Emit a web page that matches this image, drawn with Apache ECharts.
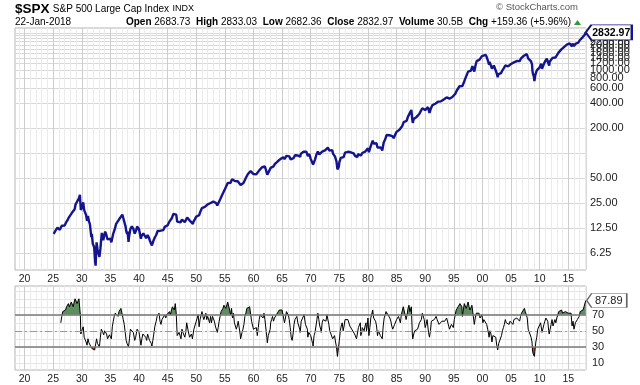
<!DOCTYPE html>
<html><head><meta charset="utf-8">
<script src="https://cdn.jsdelivr.net/npm/echarts@6/dist/echarts.min.js"></script>
<style>html,body{margin:0;padding:0;background:#fff}#c{width:640px;height:385px}</style>
</head><body><div id="c"></div>
<script>
// ---------- DATA ----------
const spx1920s = [["1925-02",10.6],["1925-04",10.9],["1925-07",11.9],["1925-10",12.6],
 ["1926-01",13.1],["1926-03",11.9],["1926-04",12.1],["1926-07",13.3],["1926-10",13.3],
 ["1927-01",13.4],["1927-04",14.6],["1927-07",15.5],["1927-10",16.8],
 ["1928-01",17.5],["1928-04",18.9],["1928-06",18.6],["1928-07",19.2],["1928-10",21.0],["1928-12",24.1],
 ["1929-01",24.9],["1929-04",24.6],["1929-07",28.5],["1929-09",31.3],["1929-11",20.6],["1929-12",21.4]];
const spx1930s = [["1930-02",22.5],["1930-04",25.5],["1930-06",20.5],["1930-07",21.0],["1930-10",17.9],["1930-12",15.3],
 ["1931-02",17.4],["1931-04",15.0],["1931-06",13.9],["1931-07",13.5],["1931-09",9.7],["1931-10",10.6],["1931-12",8.1],
 ["1932-01",8.3],["1932-03",7.3],["1932-05",4.9],["1932-06",4.4],["1932-08",8.4],["1932-09",8.3],["1932-10",6.9],["1932-12",6.9],
 ["1933-02",5.6],["1933-04",7.0],["1933-07",10.9],["1933-10",8.9],["1933-12",10.1],
 ["1934-02",11.3],["1934-04",10.6],["1934-07",9.1],["1934-10",8.9],
 ["1935-01",9.3],["1935-03",8.4],["1935-07",10.7],["1935-10",12.0],
 ["1936-01",14.0],["1936-04",14.7],["1936-07",15.8],["1936-10",16.3],
 ["1937-02",18.1],["1937-04",16.5],["1937-07",16.1],["1937-09",12.9],["1937-10",11.6],["1937-12",10.6],
 ["1938-01",11.3],["1938-03",8.5],["1938-04",9.7],["1938-07",12.2],["1938-10",13.1],
 ["1939-01",12.3],["1939-04",10.7],["1939-07",11.7],["1939-09",13.0],["1939-10",12.9]];
const spx1940s = [["1940-01",12.1],["1940-04",12.3],["1940-05",9.3],["1940-06",9.9],["1940-10",10.8],
 ["1941-01",10.3],["1941-04",9.4],["1941-07",10.3],["1941-10",9.5],["1941-12",8.7],
 ["1942-01",8.9],["1942-04",7.7],["1942-07",8.7],["1942-10",9.6],
 ["1943-01",10.3],["1943-04",11.5],["1943-07",11.8],["1943-10",11.6],
 ["1944-01",11.8],["1944-04",11.8],["1944-07",12.9],["1944-10",12.9],
 ["1945-01",13.5],["1945-04",14.7],["1945-07",14.8],["1945-10",16.5],["1945-12",17.4],
 ["1946-01",18.5],["1946-05",19.3],["1946-07",18.1],["1946-09",14.9],["1946-10",14.7],
 ["1947-01",15.5],["1947-04",14.6],["1947-07",15.8],["1947-10",15.3],
 ["1948-01",14.7],["1948-04",15.5],["1948-06",16.7],["1948-10",16.2],["1948-12",15.2],
 ["1949-01",15.4],["1949-04",14.7],["1949-06",14.0],["1949-07",14.8],["1949-10",15.9]];
const spx1950s = [["1950-01",17.1],["1950-04",18.0],["1950-07",17.8],["1950-10",19.9],
 ["1951-01",21.7],["1951-04",22.4],["1951-07",22.4],["1951-10",23.0],
 ["1952-01",24.1],["1952-04",23.3],["1952-07",25.0],["1952-10",24.5],
 ["1953-01",26.0],["1953-04",24.6],["1953-07",24.8],["1953-09",23.3],["1953-10",24.5],
 ["1954-01",26.1],["1954-04",28.3],["1954-07",30.9],["1954-10",31.7],
 ["1955-01",36.6],["1955-04",37.9],["1955-07",43.5],["1955-10",42.3],
 ["1956-01",43.8],["1956-04",48.4],["1956-07",49.4],["1956-10",46.0],
 ["1957-01",44.7],["1957-04",45.7],["1957-07",47.4],["1957-10",41.1],["1957-12",39.9],
 ["1958-01",41.7],["1958-04",43.4],["1958-07",47.2],["1958-10",51.3],
 ["1959-01",55.4],["1959-04",57.6],["1959-07",60.5],["1959-10",57.5]];
const spx1960s = [["1960-01",55.6],["1960-04",54.4],["1960-07",55.5],["1960-10",53.4],
 ["1961-01",61.8],["1961-04",65.3],["1961-07",67.4],["1961-10",68.6],
 ["1962-01",68.8],["1962-04",65.2],["1962-06",54.8],["1962-10",56.5],
 ["1963-01",66.2],["1963-04",69.8],["1963-07",69.1],["1963-10",74.0],
 ["1964-01",77.0],["1964-04",79.5],["1964-07",83.2],["1964-10",84.9],
 ["1965-01",87.6],["1965-04",89.1],["1965-06",84.1],["1965-07",85.0],["1965-10",92.4],
 ["1966-01",92.9],["1966-04",91.1],["1966-07",83.6],["1966-10",80.2],
 ["1967-01",86.6],["1967-04",94.0],["1967-07",94.7],["1967-10",93.3],
 ["1968-01",92.2],["1968-03",90.2],["1968-04",97.5],["1968-07",97.7],["1968-10",103.4],
 ["1969-01",103.0],["1969-04",103.5],["1969-07",91.8],["1969-10",97.2]];
const spx1970s = [["1970-01",85.0],["1970-04",81.5],["1970-06",72.7],["1970-10",83.3],
 ["1971-01",95.9],["1971-04",103.9],["1971-07",96.0],["1971-10",94.2],
 ["1972-01",103.9],["1972-04",107.7],["1972-07",107.4],["1972-10",111.6],
 ["1973-01",116.0],["1973-04",106.9],["1973-07",108.2],["1973-10",108.3],["1973-12",97.6],
 ["1974-01",96.6],["1974-04",90.3],["1974-07",79.3],["1974-09",63.5],["1974-12",68.6],
 ["1975-01",76.9],["1975-04",87.3],["1975-07",88.8],["1975-10",89.0],
 ["1976-01",100.9],["1976-04",101.6],["1976-07",103.4],["1976-10",102.1],
 ["1977-01",102.0],["1977-04",98.4],["1977-07",98.9],["1977-10",92.3],
 ["1978-01",89.3],["1978-03",89.2],["1978-04",96.8],["1978-07",100.7],["1978-10",93.2],
 ["1979-01",99.9],["1979-04",101.8],["1979-07",103.8],["1979-10",101.8]];
const spx1980s = [["1980-01",114.2],["1980-03",102.1],["1980-07",121.7],["1980-11",140.5],
 ["1981-01",129.6],["1981-04",132.8],["1981-07",130.9],["1981-09",116.2],["1981-10",121.9],
 ["1982-01",120.4],["1982-04",116.4],["1982-07",107.1],["1982-10",134.0],
 ["1983-01",145.3],["1983-04",164.4],["1983-07",162.6],["1983-10",163.6],
 ["1984-01",163.4],["1984-04",160.0],["1984-07",150.7],["1984-10",166.1],
 ["1985-01",179.6],["1985-04",179.8],["1985-07",190.9],["1985-10",189.8],
 ["1986-01",211.8],["1986-04",235.5],["1986-07",236.1],["1986-10",243.0],
 ["1987-01",274.1],["1987-04",288.4],["1987-08",329.8],["1987-10",251.8],["1987-11",230.3],
 ["1988-01",257.1],["1988-04",261.3],["1988-07",272.0],["1988-10",278.9],
 ["1989-01",297.5],["1989-04",309.6],["1989-07",346.1],["1989-10",340.4]];
const spx1990s = [["1990-01",329.1],["1990-04",330.8],["1990-07",356.2],["1990-10",304.0],
 ["1991-01",343.9],["1991-04",375.3],["1991-07",387.8],["1991-10",392.5],
 ["1992-01",408.8],["1992-04",414.9],["1992-07",424.2],["1992-10",418.7],
 ["1993-01",438.8],["1993-04",440.2],["1993-07",448.1],["1993-10",467.8],
 ["1994-01",481.6],["1994-04",450.9],["1994-07",458.3],["1994-10",472.4],
 ["1995-01",470.4],["1995-04",514.7],["1995-07",562.1],["1995-10",581.5],
 ["1996-01",636.0],["1996-04",654.2],["1996-07",639.9],["1996-10",705.3],
 ["1997-01",786.2],["1997-04",801.3],["1997-07",954.3],["1997-10",914.6],
 ["1998-01",980.3],["1998-04",1111.8],["1998-07",1120.7],["1998-08",957.3],["1998-10",1098.7],
 ["1999-01",1279.6],["1999-04",1335.2],["1999-07",1328.7],["1999-10",1362.9],["1999-12",1469.3]];
const spx2000s = [["2000-01",1394.5],["2000-04",1452.4],["2000-08",1517.7],["2000-10",1429.4],["2000-12",1320.3],
 ["2001-01",1366.0],["2001-03",1160.3],["2001-04",1249.5],["2001-07",1211.2],["2001-09",1040.9],["2001-10",1059.8],
 ["2002-01",1130.2],["2002-04",1076.9],["2002-07",911.6],["2002-09",815.3],["2002-10",885.8],
 ["2003-01",855.7],["2003-02",841.2],["2003-04",916.9],["2003-07",990.3],["2003-10",1050.7],
 ["2004-01",1131.1],["2004-04",1107.3],["2004-07",1101.7],["2004-10",1130.2],
 ["2005-01",1181.3],["2005-04",1156.9],["2005-07",1234.2],["2005-10",1207.0],
 ["2006-01",1280.1],["2006-04",1310.6],["2006-07",1276.7],["2006-10",1377.9],
 ["2007-01",1438.2],["2007-04",1482.4],["2007-07",1455.3],["2007-10",1549.4],
 ["2008-01",1378.6],["2008-04",1385.6],["2008-07",1267.4],["2008-09",1166.4],["2008-10",968.8],["2008-11",896.2],
 ["2009-01",825.9],["2009-02",735.1],["2009-04",872.8],["2009-07",987.5],["2009-10",1036.2]];
const spx2010s = [["2010-01",1073.9],["2010-04",1186.7],["2010-06",1030.7],["2010-10",1183.3],
 ["2011-01",1286.1],["2011-04",1363.6],["2011-07",1292.3],["2011-09",1131.4],["2011-10",1253.3],
 ["2012-01",1312.4],["2012-04",1397.9],["2012-07",1379.3],["2012-10",1412.2],
 ["2013-01",1498.1],["2013-04",1597.6],["2013-07",1685.7],["2013-10",1756.5],
 ["2014-01",1782.6],["2014-04",1883.9],["2014-07",1930.7],["2014-10",2018.1],
 ["2015-01",1995.0],["2015-04",2085.5],["2015-07",2103.8],["2015-09",1920.0],["2015-10",2079.4],
 ["2016-01",1940.2],["2016-04",2065.3],["2016-07",2173.6],["2016-10",2126.2],
 ["2017-01",2278.9],["2017-04",2384.2],["2017-07",2470.3],["2017-10",2575.3],["2017-12",2673.6],
 ["2018-01-22",2832.97]];

const rsi1920s = [["1926-05",60],["1926-07",68],["1926-09",74],["1926-11",72],
 ["1927-01",74],["1927-03",76],["1927-05",80],["1927-07",78],["1927-09",84],["1927-11",80],
 ["1928-01",82],["1928-03",86],["1928-05",88],["1928-07",80],["1928-09",86],["1928-11",90],
 ["1929-01",89],["1929-03",84],["1929-05",84],["1929-07",90],["1929-09",92],["1929-10",70],["1929-11",46],["1929-12",48]];
const rsi1930s = [["1930-02",52],["1930-04",55],["1930-06",42],["1930-08",44],["1930-10",36],["1930-12",32],
 ["1931-02",40],["1931-04",35],["1931-06",33],["1931-08",34],["1931-10",28],["1931-12",27],
 ["1932-02",29],["1932-04",26],["1932-06",24],["1932-08",40],["1932-10",34],["1932-12",34],
 ["1933-02",30],["1933-04",42],["1933-06",52],["1933-07",54],["1933-09",48],["1933-11",45],
 ["1934-01",50],["1934-03",52],["1934-05",46],["1934-07",40],["1934-09",42],["1934-11",45],
 ["1935-01",44],["1935-03",40],["1935-05",55],["1935-07",62],["1935-09",68],["1935-11",72],
 ["1936-01",72],["1936-03",74],["1936-05",68],["1936-07",74],["1936-09",76],["1936-11",78],
 ["1937-02",78],["1937-04",64],["1937-06",58],["1937-08",60],["1937-10",38],["1937-12",34],
 ["1938-02",36],["1938-03",30],["1938-05",40],["1938-07",52],["1938-09",50],["1938-11",54],
 ["1939-01",48],["1939-03",46],["1939-04",38],["1939-06",42],["1939-09",52],["1939-11",50]];
const rsi1940s = [["1940-01",48],["1940-03",50],["1940-05",32],["1940-07",40],["1940-09",46],["1940-11",46],
 ["1941-01",44],["1941-03",42],["1941-05",38],["1941-07",46],["1941-09",42],["1941-11",38],
 ["1942-01",38],["1942-03",34],["1942-04",31],["1942-06",38],["1942-08",46],["1942-10",55],
 ["1943-01",62],["1943-03",68],["1943-05",70],["1943-07",72],["1943-09",62],["1943-11",58],
 ["1944-01",64],["1944-03",62],["1944-05",66],["1944-07",70],["1944-09",66],["1944-11",70],
 ["1945-01",72],["1945-03",68],["1945-05",74],["1945-07",70],["1945-09",76],["1945-11",80],
 ["1946-01",80],["1946-03",76],["1946-05",84],["1946-07",72],["1946-09",44],["1946-11",44],
 ["1947-01",48],["1947-03",46],["1947-05",40],["1947-07",52],["1947-09",48],["1947-11",46],
 ["1948-01",42],["1948-03",48],["1948-05",60],["1948-06",62],["1948-08",50],["1948-10",52],["1948-11",42],
 ["1949-01",44],["1949-03",46],["1949-05",40],["1949-06",38],["1949-08",52],["1949-10",56]];
const rsi1950s = [["1950-01",62],["1950-03",64],["1950-05",70],["1950-07",55],["1950-09",64],["1950-11",66],
 ["1951-01",74],["1951-03",68],["1951-05",64],["1951-07",66],["1951-09",72],["1951-11",64],
 ["1952-01",68],["1952-03",66],["1952-05",60],["1952-07",68],["1952-09",60],["1952-11",68],
 ["1953-01",68],["1953-03",62],["1953-05",56],["1953-07",56],["1953-09",48],["1953-11",54],
 ["1954-01",62],["1954-03",68],["1954-05",74],["1954-07",76],["1954-09",78],["1954-11",82],
 ["1955-01",80],["1955-03",78],["1955-05",80],["1955-07",86],["1955-09",84],["1955-11",76],
 ["1956-01",70],["1956-03",78],["1956-05",66],["1956-07",72],["1956-09",60],["1956-11",58],
 ["1957-01",52],["1957-03",56],["1957-05",62],["1957-07",64],["1957-09",46],["1957-10",40],["1957-12",42],
 ["1958-01",48],["1958-03",52],["1958-05",58],["1958-07",68],["1958-09",72],["1958-11",78],
 ["1959-01",78],["1959-03",76],["1959-05",80],["1959-07",78],["1959-09",62],["1959-11",62]];
const rsi1960s = [["1960-01",52],["1960-03",50],["1960-05",54],["1960-07",54],["1960-09",44],["1960-11",54],
 ["1961-01",64],["1961-03",70],["1961-05",70],["1961-07",68],["1961-09",66],["1961-11",72],
 ["1962-01",64],["1962-03",62],["1962-05",42],["1962-06",35],["1962-08",44],["1962-10",42],["1962-12",52],
 ["1963-01",60],["1963-03",64],["1963-05",68],["1963-07",62],["1963-09",66],["1963-11",64],
 ["1964-01",70],["1964-03",72],["1964-05",72],["1964-07",76],["1964-09",74],["1964-11",74],
 ["1965-01",76],["1965-03",74],["1965-05",74],["1965-06",60],["1965-08",66],["1965-10",74],["1965-12",72],
 ["1966-02",70],["1966-04",64],["1966-06",54],["1966-08",42],["1966-10",38],["1966-12",46],
 ["1967-02",58],["1967-04",64],["1967-06",66],["1967-08",68],["1967-10",60],["1967-12",62],
 ["1968-02",52],["1968-03",48],["1968-05",62],["1968-07",64],["1968-09",64],["1968-11",70],["1968-12",70],
 ["1969-02",58],["1969-04",58],["1969-06",52],["1969-07",42],["1969-09",48],["1969-11",50]];
const rsi1970s = [["1970-01",44],["1970-03",46],["1970-05",34],["1970-06",31],["1970-08",44],["1970-10",48],["1970-12",56],
 ["1971-02",64],["1971-04",72],["1971-06",64],["1971-08",56],["1971-10",52],["1971-11",48],
 ["1972-01",60],["1972-03",64],["1972-05",66],["1972-07",62],["1972-09",62],["1972-11",70],
 ["1973-01",70],["1973-03",58],["1973-05",50],["1973-07",52],["1973-09",52],["1973-11",40],
 ["1974-01",42],["1974-03",44],["1974-05",36],["1974-07",30],["1974-09",18],["1974-11",28],
 ["1975-01",38],["1975-03",50],["1975-05",56],["1975-07",60],["1975-09",50],["1975-11",56],
 ["1976-01",64],["1976-03",66],["1976-05",62],["1976-07",64],["1976-09",64],["1976-11",56],
 ["1977-01",56],["1977-03",52],["1977-05",50],["1977-07",52],["1977-09",46],["1977-11",44],
 ["1978-01",40],["1978-03",42],["1978-05",54],["1978-07",56],["1978-09",60],["1978-10",44],["1978-12",48],
 ["1979-01",54],["1979-03",54],["1979-05",50],["1979-07",56],["1979-09",60],["1979-10",50],["1979-12",58]];
const rsi1980s = [["1980-01",66],["1980-03",44],["1980-05",54],["1980-07",66],["1980-09",68],["1980-11",76],
 ["1981-01",66],["1981-03",64],["1981-05",62],["1981-07",56],["1981-09",44],["1981-11",50],
 ["1982-01",48],["1982-03",44],["1982-05",46],["1982-07",40],["1982-09",56],["1982-11",66],
 ["1983-01",70],["1983-03",74],["1983-05",76],["1983-07",70],["1983-09",68],["1983-11",66],
 ["1984-01",62],["1984-03",56],["1984-05",52],["1984-07",50],["1984-09",58],["1984-11",58],
 ["1985-01",64],["1985-03",64],["1985-05",68],["1985-07",70],["1985-09",60],["1985-11",70],
 ["1986-01",72],["1986-03",80],["1986-05",78],["1986-07",70],["1986-09",64],["1986-11",70],
 ["1987-01",78],["1987-03",82],["1987-05",74],["1987-08",80],["1987-10",46],["1987-11",40],
 ["1988-01",46],["1988-03",50],["1988-05",48],["1988-07",52],["1988-09",52],["1988-11",54],
 ["1989-01",60],["1989-03",60],["1989-05",64],["1989-07",72],["1989-09",70],["1989-11",64]];
const rsi1990s = [["1990-01",54],["1990-03",58],["1990-05",64],["1990-07",64],["1990-08",48],["1990-10",42],["1990-12",50],
 ["1991-02",62],["1991-04",64],["1991-06",60],["1991-08",64],["1991-10",62],["1991-12",68],
 ["1992-02",64],["1992-04",62],["1992-06",58],["1992-08",58],["1992-10",58],["1992-12",62],
 ["1993-02",62],["1993-04",60],["1993-06",62],["1993-08",64],["1993-10",66],["1993-12",64],
 ["1994-02",64],["1994-04",52],["1994-06",54],["1994-08",58],["1994-10",58],["1994-12",54],
 ["1995-02",64],["1995-04",70],["1995-06",76],["1995-08",78],["1995-10",80],["1995-12",82],
 ["1996-02",84],["1996-04",82],["1996-06",80],["1996-07",68],["1996-09",76],["1996-11",84],
 ["1997-01",84],["1997-03",78],["1997-05",82],["1997-07",86],["1997-09",80],["1997-11",76],
 ["1998-01",74],["1998-03",82],["1998-05",80],["1998-07",80],["1998-08",58],["1998-10",66],["1998-12",72],
 ["1999-02",74],["1999-04",74],["1999-06",72],["1999-08",66],["1999-10",64],["1999-12",70]];
const rsi2000s = [["2000-02",60],["2000-04",64],["2000-06",62],["2000-08",64],["2000-10",58],["2000-12",52],
 ["2001-02",46],["2001-03",42],["2001-05",50],["2001-07",46],["2001-09",36],["2001-11",44],
 ["2002-01",46],["2002-03",46],["2002-05",42],["2002-07",32],["2002-09",26],["2002-11",34],
 ["2003-01",32],["2003-03",32],["2003-05",44],["2003-07",50],["2003-09",54],["2003-11",58],
 ["2004-01",64],["2004-03",60],["2004-05",58],["2004-07",58],["2004-09",58],["2004-11",62],
 ["2005-01",62],["2005-03",60],["2005-05",58],["2005-07",64],["2005-09",62],["2005-11",62],
 ["2006-01",66],["2006-03",68],["2006-05",64],["2006-07",62],["2006-09",68],["2006-11",72],
 ["2007-01",74],["2007-03",70],["2007-05",78],["2007-07",74],["2007-09",72],["2007-11",66],
 ["2008-01",52],["2008-03",50],["2008-05",54],["2008-07",42],["2008-09",36],["2008-10",26],["2008-11",22],
 ["2009-01",24],["2009-02",18],["2009-03",24],["2009-05",36],["2009-07",42],["2009-09",52],["2009-11",52]];
const rsi2010s = [["2010-01",54],["2010-03",60],["2010-04",62],["2010-06",48],["2010-08",50],["2010-10",58],["2010-12",62],
 ["2011-02",66],["2011-04",68],["2011-06",62],["2011-08",50],["2011-09",46],["2011-11",52],
 ["2012-01",58],["2012-03",64],["2012-05",56],["2012-07",60],["2012-09",64],["2012-11",60],
 ["2013-01",66],["2013-03",70],["2013-05",74],["2013-07",74],["2013-09",72],["2013-11",76],
 ["2014-01",72],["2014-03",74],["2014-05",74],["2014-07",74],["2014-09",76],["2014-11",76],
 ["2015-01",72],["2015-03",74],["2015-05",74],["2015-07",72],["2015-08",62],["2015-09",56],["2015-11",62],
 ["2016-01",52],["2016-02",50],["2016-04",60],["2016-06",60],["2016-08",64],["2016-10",62],["2016-12",68],
 ["2017-02",74],["2017-04",74],["2017-06",76],["2017-08",76],["2017-10",80],["2017-12",82],
 ["2018-01-22",87.89]];

const priceLabels = [6.25, 12.5, 25, 50, 200, 400, 600, 800, 1000, 1200, 1400, 1600, 1800, 2000, 2200, 2400, 2600, 2800];
const priceGridValues = [6.25, 12.5, 25, 50, 100, 200, 400, 600, 800, 1000, 1200, 1400, 1600, 1800, 2000, 2200, 2400, 2600, 2800];
const rsiLabels = [10, 30, 50, 70];
const rsiGridValues = [10, 20, 30, 40, 50, 60, 70, 80, 90, 100];
const yearLabels = [1920, 1925, 1930, 1935, 1940, 1945, 1950, 1955, 1960, 1965, 1970, 1975, 1980, 1985, 1990, 1995, 2000, 2005, 2010, 2015];
const header = {symbol: "$SPX", name: "S&P 500 Large Cap Index", exch: "INDX", date: "22-Jan-2018",
  open: "2683.73", high: "2833.03", low: "2682.36", close: "2832.97", volume: "30.5B", chg: "+159.36 (+5.96%)"};

// ---------- BUILD ----------
// date string "YYYY-MM" or "YYYY-MM-DD" -> position on the (decimal-year) time axis
function toYear(s) {
  const p = s.split('-').map(Number);
  return p[0] + (p[1] - 1) / 12 + ((p[2] || 1) - 1) / 365;
}
const toPts = arr => arr.map(d => [toYear(d[0]), d[1]]);
const spx = toPts([].concat(spx1920s, spx1930s, spx1940s, spx1950s, spx1960s, spx1970s, spx1980s, spx1990s, spx2000s, spx2010s));
const rsi = toPts([].concat(rsi1920s, rsi1930s, rsi1940s, rsi1950s, rsi1960s, rsi1970s, rsi1980s, rsi1990s, rsi2000s, rsi2010s));
const lastP = spx[spx.length - 1], lastR = rsi[rsi.length - 1];
const minorTicks = [];
for (let y = 1919; y <= 2018; y++) minorTicks.push(y);
const L2 = Math.log2;
const P_MIN = 3.9, P_MAX = 3200;
const X_MIN = 1918.33, X_MAX = 2018.1;
const FONT = "'Liberation Sans', Arial, sans-serif";
const GRID0 = {left: 15, right: 54, top: 28, height: 242};
const GRID1 = {left: 15, right: 54, top: 286, height: 84};
const yearFmt = v => String(Math.round(v)).slice(2);

function xMinor(g) { return {type: 'value', gridIndex: g, position: 'bottom', min: X_MIN, max: X_MAX, axisLine: {show: false},
  axisLabel: {show: false}, axisTick: {show: false, customValues: minorTicks},
  splitLine: {show: true, lineStyle: {color: '#ebebeb', width: 1}}}; }
function xMajor(g) { return {type: 'value', gridIndex: g, position: 'bottom', min: X_MIN, max: X_MAX, axisLine: {show: false},
  axisTick: {show: false, customValues: yearLabels},
  axisLabel: {customValues: yearLabels, formatter: yearFmt, fontSize: 10.5, color: '#222', fontFamily: FONT, margin: 4},
  splitLine: {show: true, lineStyle: {color: '#cdcdcd', width: 1}}}; }

const tagPath = 'path://M0,6 L6,0 L50,0 L50,12 L6,12 Z';

const option = {
  animation: false,
  backgroundColor: '#fff',
  textStyle: {fontFamily: FONT},
  grid: [Object.assign({show: true, borderColor: '#b4b4b4', borderWidth: 1, backgroundColor: '#fff'}, GRID0),
         Object.assign({show: true, borderColor: '#b4b4b4', borderWidth: 1, backgroundColor: '#fff'}, GRID1)],
  xAxis: [xMinor(0), xMajor(0), xMinor(1), xMajor(1)],
  yAxis: [
    {type: 'log', logBase: 2, gridIndex: 0, min: P_MIN, max: P_MAX, show: false},
    {type: 'value', gridIndex: 0, position: 'right', min: L2(P_MIN), max: L2(P_MAX),
     axisLine: {show: false}, axisTick: {show: false, customValues: priceGridValues.map(L2)},
     axisLabel: {customValues: priceLabels.map(L2), formatter: v => Math.pow(2, v).toFixed(2), fontSize: 11, color: '#222', fontFamily: FONT, margin: 4, hideOverlap: false},
     splitLine: {show: true, lineStyle: {color: '#d8d8d8'}}},
    {type: 'value', gridIndex: 1, position: 'right', min: 1, max: 106,
     axisLine: {show: false}, axisTick: {show: false, customValues: rsiGridValues},
     axisLabel: {customValues: rsiLabels, fontSize: 11, color: '#222', fontFamily: FONT, margin: 6},
     splitLine: {show: true, lineStyle: {color: '#e4e4e4'}}}
  ],
  visualMap: {show: false, type: 'piecewise', seriesIndex: 1, dimension: 1,
    pieces: [{gt: 70, color: '#5e8d5e'}, {lt: 30, color: '#b8453c'}, {gte: 30, lte: 70, color: 'rgba(0,0,0,0)'}]},
  series: [
    {type: 'line', name: 'SPX', xAxisIndex: 1, yAxisIndex: 0, data: spx, showSymbol: false, symbol: 'none',
     lineStyle: {color: '#14148c', width: 2.4}, z: 5,
     markPoint: {symbol: tagPath, symbolSize: [46, 15], symbolKeepAspect: false, symbolOffset: [23, 0], z: 20,
       itemStyle: {color: '#ffffff', borderColor: '#14148c', borderWidth: 1.4},
       label: {show: true, position: 'inside', formatter: () => lastP[1].toFixed(2), color: '#000', fontWeight: 'bold', fontSize: 10.5, fontFamily: FONT, offset: [2.5, 0.5]},
       data: [{coord: [lastP[0], lastP[1]]}]}},
    {type: 'line', name: 'RSIfill', xAxisIndex: 3, yAxisIndex: 2, data: rsi, showSymbol: false, symbol: 'none',
     lineStyle: {width: 0, opacity: 0}, areaStyle: {origin: 70, opacity: 1}, z: 2, silent: true},
    {type: 'line', name: 'RSI', xAxisIndex: 3, yAxisIndex: 2, data: rsi, showSymbol: false, symbol: 'none',
     lineStyle: {color: '#000', width: 1}, z: 4,
     markLine: {silent: true, symbol: 'none', label: {show: false},
       data: [{yAxis: 70, lineStyle: {color: '#7a7a7a', width: 1.5, type: 'solid'}},
              {yAxis: 30, lineStyle: {color: '#7a7a7a', width: 1.5, type: 'solid'}},
              {yAxis: 50, lineStyle: {color: '#999', width: 1.2, type: [7, 3, 2, 3]}}]},
     markPoint: {symbol: tagPath, symbolSize: [40, 14], symbolKeepAspect: false, symbolOffset: [21, 0], z: 20,
       itemStyle: {color: '#ffffff', borderColor: '#666', borderWidth: 1},
       label: {show: true, position: 'inside', formatter: () => lastR[1].toFixed(2), color: '#222', fontSize: 11, fontFamily: FONT, offset: [2, 0]},
       data: [{coord: [lastR[0], lastR[1]]}]}}
  ],
  graphic: [
    {type: 'text', x: 15, y: 2, style: {text: '{a|' + header.symbol + '} {b|' + header.name + '} {c|' + header.exch + '}',
      rich: {a: {fontSize: 13.5, fontWeight: 'bold', fill: '#000', fontFamily: FONT}, b: {fontSize: 10, fill: '#000', fontFamily: FONT}, c: {fontSize: 9, fill: '#000', fontFamily: FONT}}}},
    {type: 'text', x: 15, y: 17, style: {text: header.date, fontSize: 10, fill: '#000', fontFamily: FONT}},
    {type: 'text', x: 578, y: 2, style: {text: '© StockCharts.com', fontSize: 9.5, fill: '#555', align: 'right', fontFamily: FONT}},
    {type: 'text', x: 571, y: 17, style: {align: 'right',
      text: '{b|Open} ' + header.open + '  {b|High} ' + header.high + '  {b|Low} ' + header.low + '  {b|Close} ' + header.close + '  {b|Volume} ' + header.volume + '  {b|Chg} ' + header.chg,
      fontSize: 10, fill: '#000', fontFamily: FONT, rich: {b: {fontSize: 10, fontWeight: 'bold', fill: '#000', fontFamily: FONT}}}},
    {type: 'polygon', shape: {points: [[574, 25], [581, 25], [577.5, 20]]}, style: {fill: '#2e9a3a'}}
  ]
};
const chart = echarts.init(document.getElementById('c'), null, {renderer: 'canvas'});
chart.setOption(option);
</script></body></html>
